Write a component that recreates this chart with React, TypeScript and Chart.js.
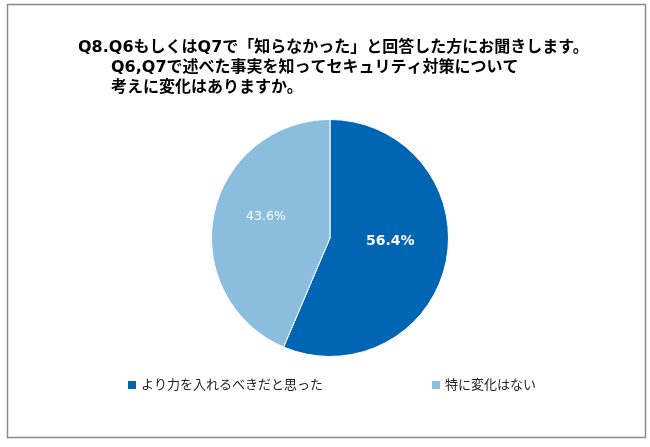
import React, { useEffect, useRef } from "react";
import { Chart, registerables } from "chart.js";

Chart.register(...registerables);

const categories = ["より力を入れるべきだと思った", "特に変化はない"];
const values = [56.4, 43.6];
const colors = ["#0066B3", "#8BBDDF"];
const titleLines = [
  "Q8.Q6もしくはQ7で「知らなかった」と回答した方にお聞きします。",
  "Q6,Q7で述べた事実を知ってセキュリティ対策について",
  "考えに変化はありますか。",
];

const FONT = '"DejaVu Sans", "Noto Sans CJK JP", sans-serif';

const overlay = {
  id: "overlay",
  afterDraw(chart: any) {
    const ctx = chart.ctx as CanvasRenderingContext2D;
    ctx.save();
    // border
    ctx.strokeStyle = "#8a8a8a";
    ctx.lineWidth = 1.5;
    ctx.strokeRect(7.5, 4.5, 638, 433);
    // title
    ctx.fillStyle = "#000";
    ctx.textBaseline = "middle";
    ctx.textAlign = "left";
    ctx.font = `bold 16px ${FONT}`;
    ctx.fillText(titleLines[0], 78, 48);
    ctx.fillText(titleLines[1], 111, 68);
    ctx.fillText(titleLines[2], 111, 88);
    // labels
    const meta = chart.getDatasetMeta(0);
    meta.data.forEach((arc: any, i: number) => {
      const p = arc.getProps(["x", "y", "startAngle", "endAngle", "outerRadius"], true);
      const mid = (p.startAngle + p.endAngle) / 2 + (i === 0 ? -0.15 : 0.12);
      const f = i === 0 ? 0.51 : 0.57;
      const x = p.x + Math.cos(mid) * p.outerRadius * f;
      const y = p.y + Math.sin(mid) * p.outerRadius * f;
      ctx.fillStyle = "#fff";
      ctx.textAlign = "center";
      ctx.font = i === 0 ? `bold 14px ${FONT}` : `12.5px ${FONT}`;
      ctx.fillText(values[i].toFixed(1) + "%", x, y);
    });
    // legend
    const legendX = [128, 432];
    ctx.font = `13px ${FONT}`;
    ctx.textAlign = "left";
    categories.forEach((c, i) => {
      ctx.fillStyle = colors[i];
      ctx.fillRect(legendX[i], 381, 8, 8);
      ctx.fillStyle = "#222";
      ctx.fillText(c, legendX[i] + 13, 386);
    });
    ctx.restore();
  },
};

export default function App() {
  const ref = useRef<HTMLCanvasElement>(null);
  useEffect(() => {
    const chart = new Chart(ref.current!, {
      type: "pie",
      data: {
        labels: categories,
        datasets: [
          {
            data: values,
            backgroundColor: colors,
            borderColor: "#ffffff",
            borderWidth: 1,
          },
        ],
      },
      options: {
        animation: false,
        responsive: false,
        maintainAspectRatio: false,
        layout: { padding: { top: 119, bottom: 90, left: 211, right: 201 } },
        plugins: {
          legend: { display: false },
          title: { display: false },
          tooltip: { enabled: false },
        },
      },
      plugins: [overlay],
    });
    return () => chart.destroy();
  }, []);
  return (
    <div style={{ position: "fixed", left: 0, top: 0, width: 650, height: 447, background: "#fff" }}>
      <canvas ref={ref} width={650} height={447} />
    </div>
  );
}
